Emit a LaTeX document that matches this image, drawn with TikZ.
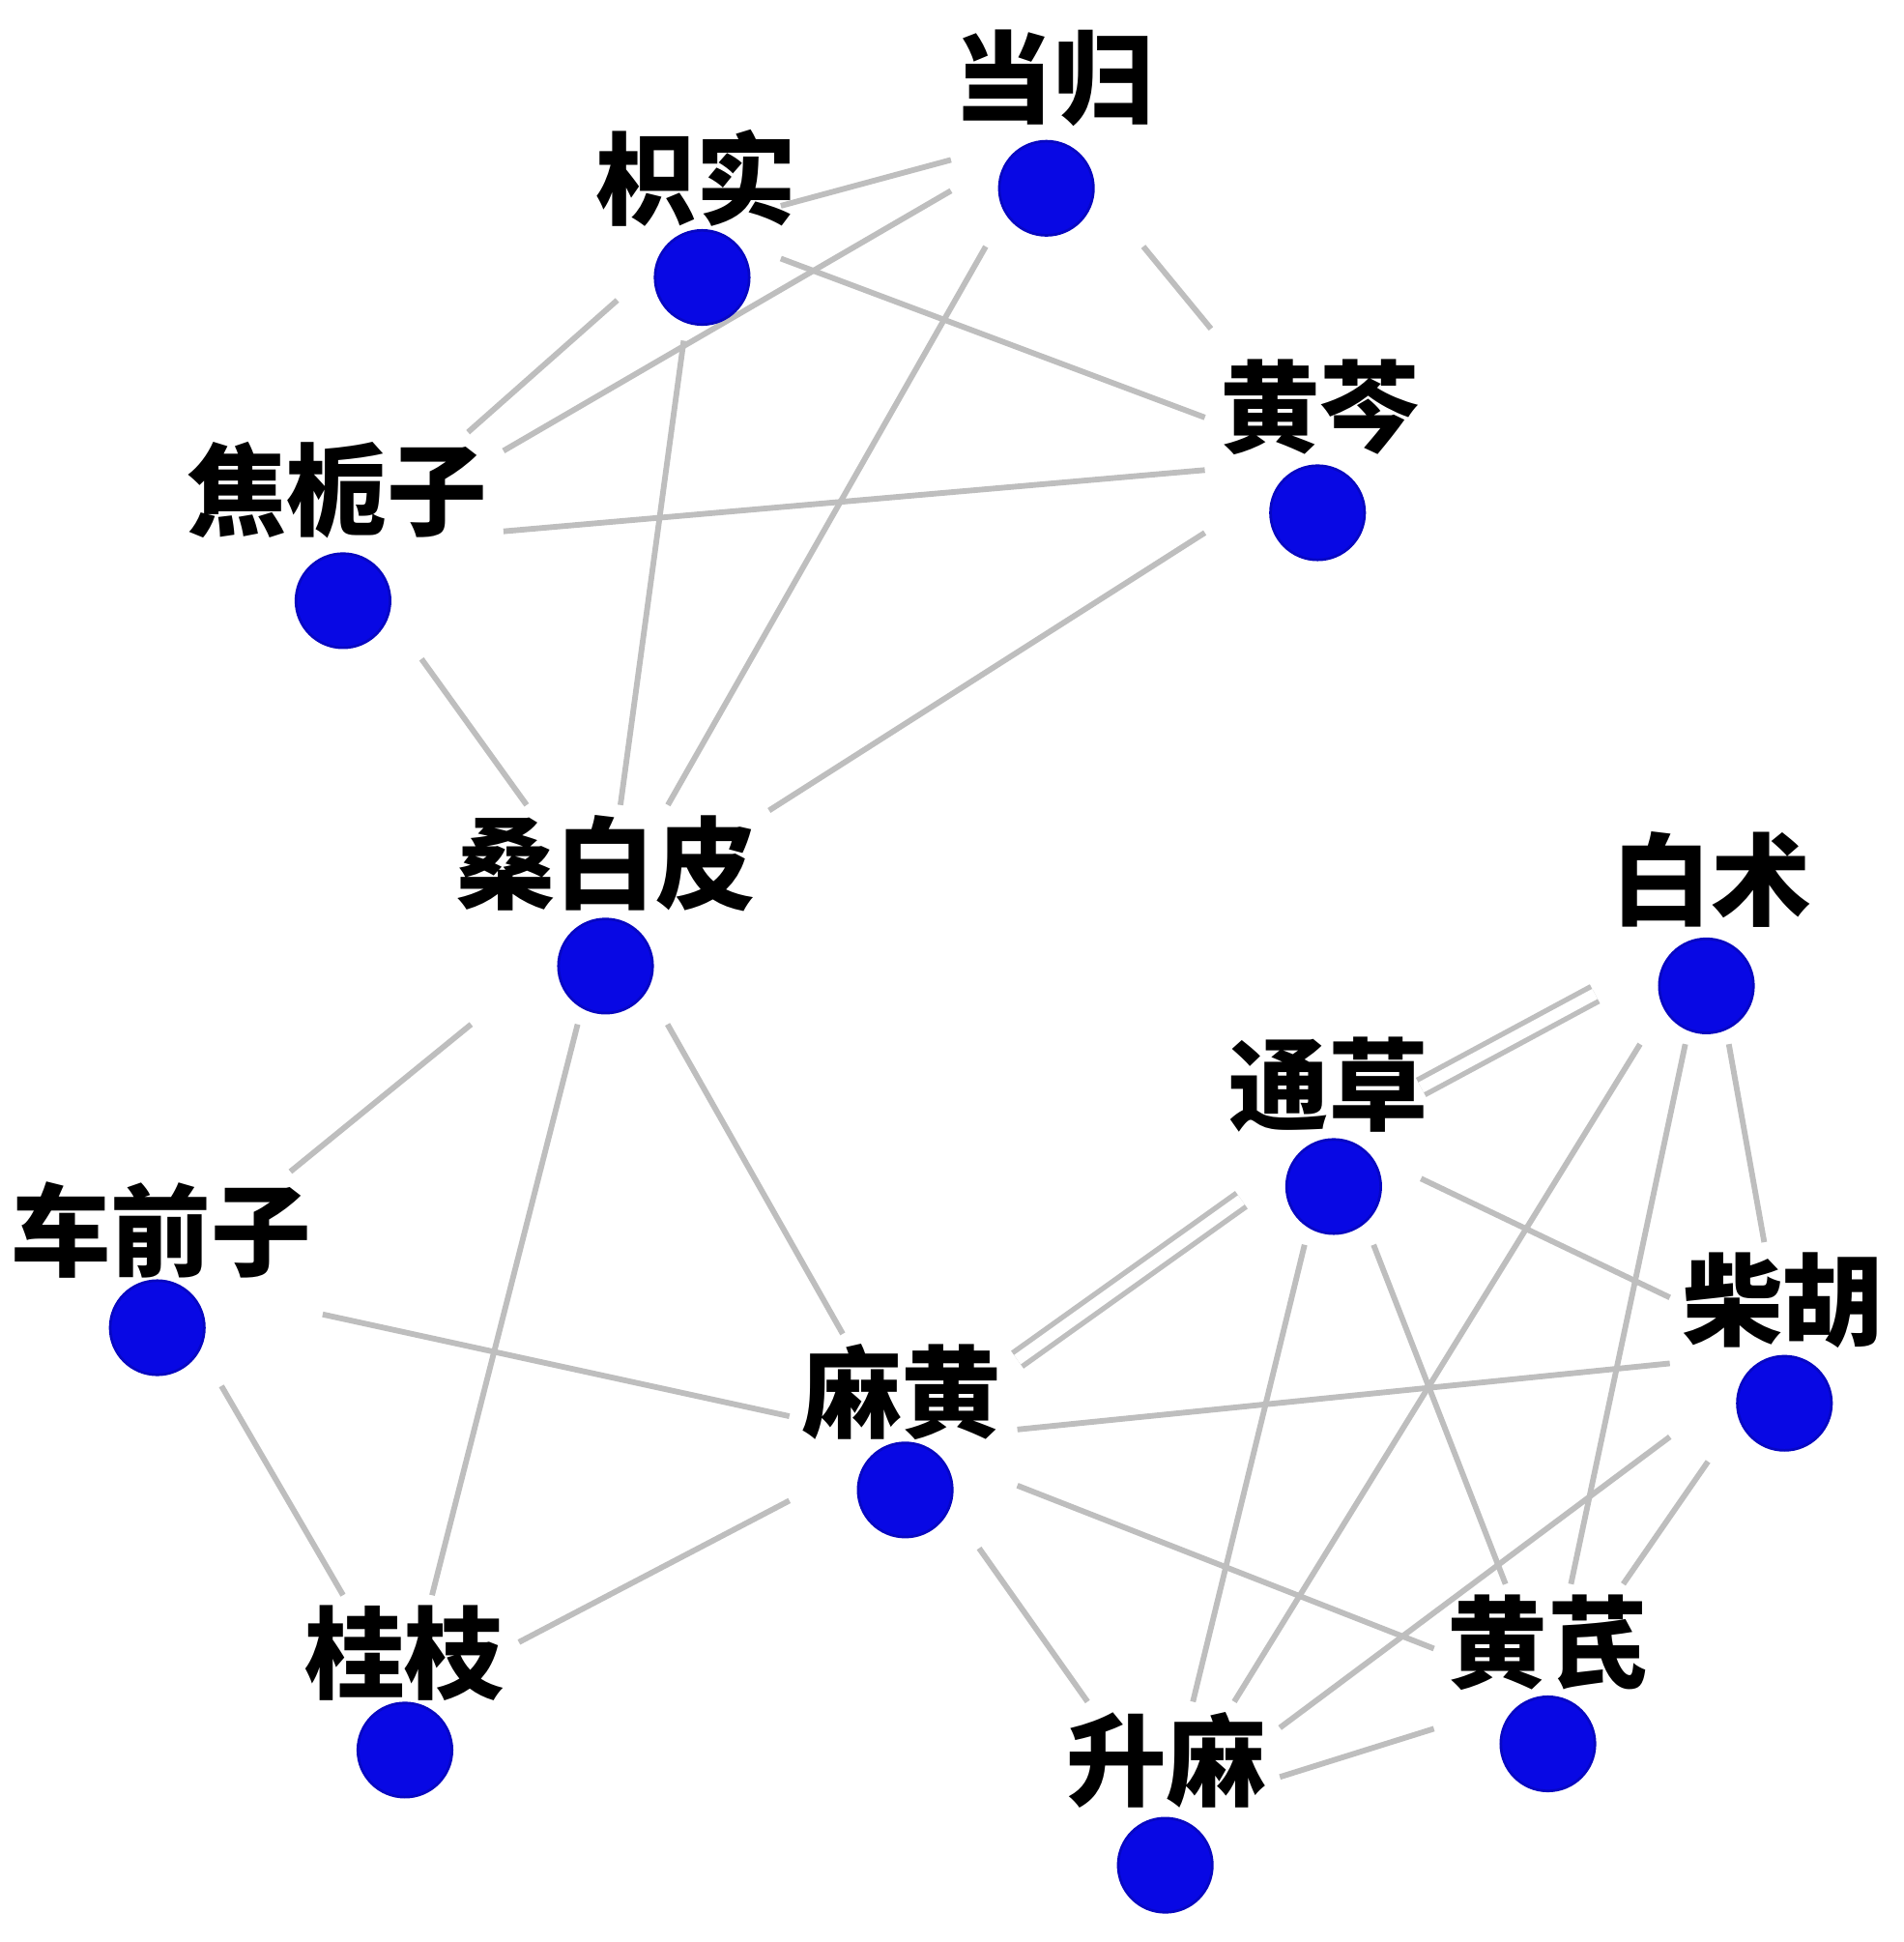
\documentclass[tikz,border=0pt]{standalone}
\usepackage{fontspec}
\newfontfamily\cjk{Noto Sans CJK SC}
\definecolor{edgegray}{RGB}{190,190,190}
\definecolor{nodeblue}{RGB}{8,8,228}
\begin{document}
\begin{tikzpicture}[x=0.01cm,y=-0.01cm,
  hub/.style={rectangle, inner sep=0pt, outer sep=0pt, minimum height=#1},
  two/.style={minimum width=1.84cm},
  three/.style={minimum width=2.64cm},
  lab/.style={inner sep=0pt, font=\cjk\bfseries\fontsize{23pt}{23pt}\selectfont},
  dot/.style={circle, fill=nodeblue, draw=nodeblue!85!black, line width=0.6pt, minimum size=0.76cm, inner sep=0pt},
  edge/.style={draw=edgegray, line width=1.3pt},
  dbl/.style={draw=edgegray, line width=1.2pt, double=white, double distance=2.6pt}]
\useasboundingbox (0,0) rectangle (1537,1568);
\fill[white] (0,0) rectangle (1537,1568);
% hub boxes (clip the connectors)
\node[hub=1.83cm, minimum width=1.60cm] (dg)  at (848,107.5) {};
\node[hub=1.82cm, minimum width=1.32cm] (zs)  at (564.5,184) {};
\node[hub=2.12cm, two]   (hq)  at (1065,371.5) {};
\node[hub=1.83cm, three] (jzz) at (274.5,440.5) {};
\node[hub=1.77cm, three] (sbp) at (489,738.5) {};
\node[hub=1.80cm, two]   (bz)  at (1380,753) {};
\node[hub=1.76cm, minimum width=1.45cm] (tc)  at (1075,917) {};
\node[hub=1.73cm, three] (cqz) at (128.5,1032.5) {};
\node[hub=1.77cm, two]   (ch)  at (1440.5,1091.5) {};
\node[hub=1.73cm, two]   (mh)  at (729.5,1163.5) {};
\node[hub=1.72cm, two]   (gz)  at (327,1374) {};
\node[hub=1.76cm, two]   (hqi) at (1250,1367) {};
\node[hub=1.79cm, two]   (sm)  at (941.5,1463.5) {};
% connectors
\draw[edge] (zs) -- (dg);
\draw[edge] (dg) -- (jzz);
\draw[edge] (dg) -- (hq);
\draw[edge] (dg) -- (sbp);
\draw[edge] (zs) -- (hq);
\draw[edge] (zs) -- (sbp);
\draw[edge] (zs) -- (jzz);
\draw[edge] (jzz) -- (hq);
\draw[edge] (hq) -- (sbp);
\draw[edge] (jzz) -- (sbp);
\draw[edge] (sbp) -- (cqz);
\draw[edge] (sbp) -- (gz);
\draw[edge] (sbp) -- (mh);
\draw[edge] (cqz) -- (mh);
\draw[edge] (cqz) -- (gz);
\draw[edge] (mh) -- (gz);
\draw[edge] (mh) -- (sm);
\draw[edge] (mh) -- (hqi);
\draw[edge] (mh) -- (ch);
\draw[dbl] (mh) -- (tc);
\draw[dbl] (tc) -- (bz);
\draw[edge] (tc) -- (ch);
\draw[edge] (tc) -- (sm);
\draw[edge] (tc) -- (hqi);
\draw[edge] (bz) -- (sm);
\draw[edge] (bz) -- (hqi);
\draw[edge] (bz) -- (ch);
\draw[edge] (ch) -- (sm);
\draw[edge] (ch) -- (hqi);
\draw[edge] (sm) -- (hqi);
% labels
\node[lab] (dg-l)  at (851,63)   {当归};
\node[lab] (zs-l)  at (562,144)  {枳实};
\node[lab] (hq-l)  at (1066,329) {黄芩};
\node[lab] (jzz-l) at (272,396)  {焦栀子};
\node[lab] (sbp-l) at (489,697)  {桑白皮};
\node[lab] (bz-l)  at (1382,710) {白术};
\node[lab] (tc-l)  at (1073,876) {通草};
\node[lab] (cqz-l) at (130,993)  {车前子};
\node[lab] (ch-l)  at (1440,1050){柴胡};
\node[lab] (mh-l)  at (728,1124) {麻黄};
\node[lab] (gz-l)  at (327,1335) {桂枝};
\node[lab] (hqi-l) at (1250,1326){黄芪};
\node[lab] (sm-l)  at (942,1421) {升麻};
% dots
\node[dot] (dg-d)  at (845,152)  {};
\node[dot] (zs-d)  at (567,224)  {};
\node[dot] (hq-d)  at (1064,414) {};
\node[dot] (jzz-d) at (277,485)  {};
\node[dot] (sbp-d) at (489,780)  {};
\node[dot] (bz-d)  at (1378,796) {};
\node[dot] (tc-d)  at (1077,958) {};
\node[dot] (cqz-d) at (127,1072) {};
\node[dot] (ch-d)  at (1441,1133){};
\node[dot] (mh-d)  at (731,1203) {};
\node[dot] (gz-d)  at (327,1413) {};
\node[dot] (hqi-d) at (1250,1408){};
\node[dot] (sm-d)  at (941,1506) {};
\end{tikzpicture}
\end{document}
